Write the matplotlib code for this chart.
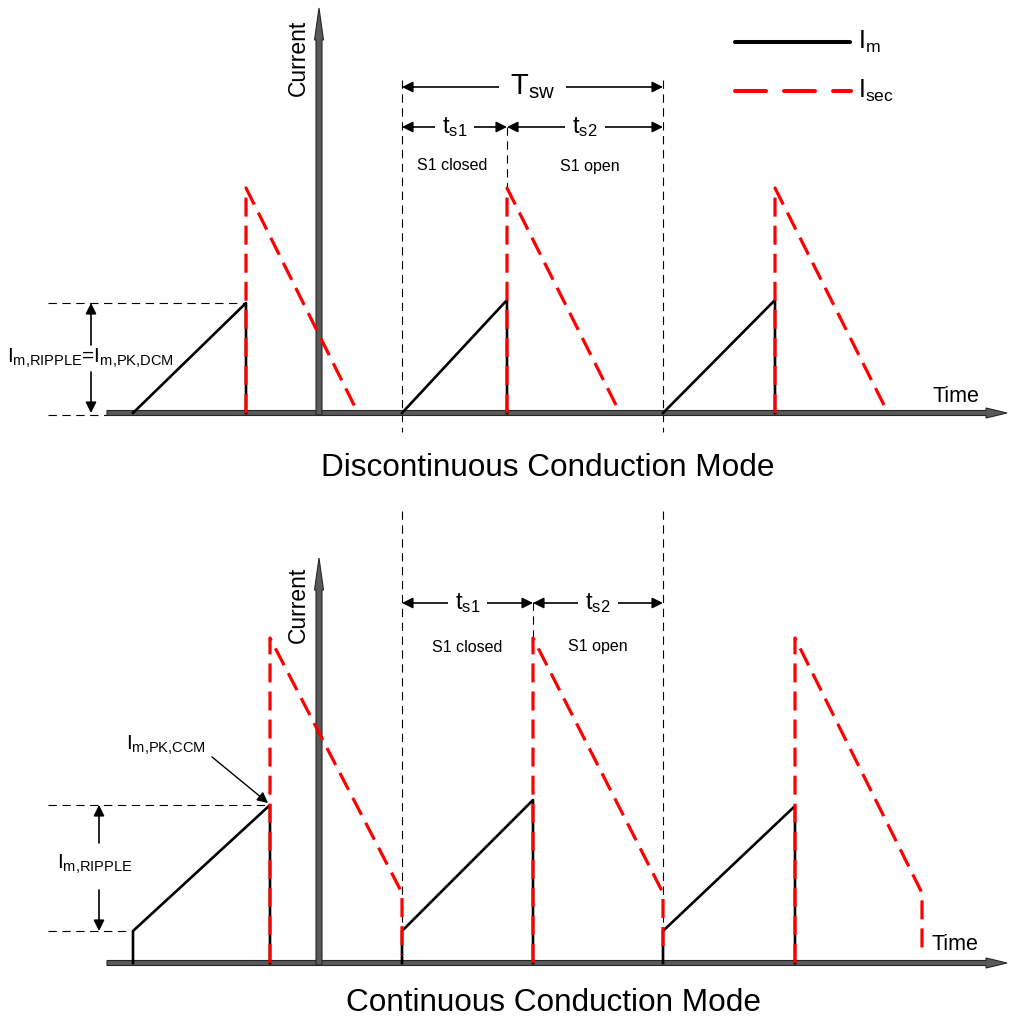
import numpy as np
import matplotlib.pyplot as plt
from matplotlib.patches import Polygon

plt.rcParams['font.family'] = ['Liberation Sans', 'DejaVu Sans']
plt.rcParams['mathtext.fontset'] = 'custom'
plt.rcParams['mathtext.rm'] = 'Liberation Sans'
plt.rcParams['mathtext.it'] = 'Liberation Sans'
plt.rcParams['lines.scale_dashes'] = False

# diagram is laid out in pixel units (y grows downwards)
base = {'dcm': 413, 'ccm': 963}          # time axis of each panel
time_axis = (107, 1007)
current_axis_x = 319
current_tip = {'dcm': 8, 'ccm': 558}

# switching instants
t_start = [133, 402, 663]
t_dcm_off = [246, 507, 775]
t_dcm_end = [358, 620, 888]
t_ccm_off = [270, 533, 795]
t_ccm_end = [402, 663, 922]
t_period = [402, 663]

# current levels, measured above the time axis
dcm_im_pk = [110, 113, 113]
dcm_sec_pk = 225
ccm_im_min = 32
ccm_im_pk = [158, 163, 157]
ccm_sec_pk = 325
ccm_sec_min = 70

RED = '#ff0000'
AX_FILL = '#595959'
AX_EDGE = '#262626'
red_dash = (13.7, 6.5)
guide_dash = (6, 4)

fig = plt.figure(figsize=(10.11, 10.22), dpi=100)
ax = fig.add_axes([0, 0, 1, 1])
ax.set_xlim(0, 1011)
ax.set_ylim(1022, 0)
ax.axis('off')


def h_axis(x0, x1, y):
    pts = [(x0, y - 2.5), (x1 - 21, y - 2.5), (x1 - 21, y - 5), (x1, y),
           (x1 - 21, y + 5), (x1 - 21, y + 2.5), (x0, y + 2.5)]
    ax.add_patch(Polygon(pts, closed=True, fc=AX_FILL, ec=AX_EDGE, lw=0.8, zorder=2))


def v_axis(x, y0, y1):
    pts = [(x - 3, y0), (x - 3, y1 + 32), (x - 4.5, y1 + 32), (x, y1),
           (x + 4.5, y1 + 32), (x + 3, y1 + 32), (x + 3, y0)]
    ax.add_patch(Polygon(pts, closed=True, fc=AX_FILL, ec=AX_EDGE, lw=0.8, zorder=2))


def guide(xs, ys):
    ax.plot(xs, ys, color='k', lw=0.8, dashes=guide_dash, zorder=1)


def dim_arrow(x0, x1, y, label, size, pad=5):
    ax.annotate('', xy=(x1, y), xytext=(x0, y),
                arrowprops=dict(arrowstyle='<|-|>', color='k', lw=1.2,
                                mutation_scale=16, shrinkA=0, shrinkB=0), zorder=3)
    ax.text((x0 + x1) / 2, y, label, fontsize=size, ha='center', va='center',
            bbox=dict(fc='white', ec='none', pad=pad), zorder=4)


def up_down(x, y_top, y_bot, y_a, y_b):
    for tip, tail in ((y_top, y_a), (y_bot, y_b)):
        ax.annotate('', xy=(x, tip), xytext=(x, tail),
                    arrowprops=dict(arrowstyle='-|>', color='k', lw=1.2,
                                    mutation_scale=16, shrinkA=0, shrinkB=0))


# ---------------- DCM panel ----------------
b = base['dcm']
h_axis(time_axis[0], time_axis[1], b)
v_axis(current_axis_x, b + 2, current_tip['dcm'])
for x0, x1, pk in zip(t_start, t_dcm_off, dcm_im_pk):
    ax.plot([x0, x1, x1], [b, b - pk, b], color='k', lw=1.9, zorder=5)
for x1, x2 in zip(t_dcm_off, t_dcm_end):
    ax.plot([x1, x1, x2], [b, b - dcm_sec_pk, b], color=RED, lw=2.3,
            dashes=red_dash, zorder=6)

for x in t_period:
    guide([x, x], [80, 432])
guide([t_dcm_off[1], t_dcm_off[1]], [127, b - dcm_sec_pk])
guide([48, t_dcm_off[0]], [b - dcm_im_pk[0]] * 2)
guide([48, time_axis[0]], [b + 2, b + 2])

dim_arrow(t_period[0], t_period[1], 87, r'$\mathregular{T_{sw}}$', 21, pad=8)
dim_arrow(t_period[0], t_dcm_off[1], 127, r'$\mathregular{t_{s1}}$', 17)
dim_arrow(t_dcm_off[1], t_period[1], 127, r'$\mathregular{t_{s2}}$', 17)
ax.text((t_period[0] + t_dcm_off[1]) / 2 - 2, 166, 'S1 closed', fontsize=11.5,
        ha='center', va='center')
ax.text((t_dcm_off[1] + t_period[1]) / 2 + 5, 166, 'S1 open', fontsize=11.5,
        ha='center', va='center')

up_down(91, b - dcm_im_pk[0], b, 345, 372)
ax.text(90, 358, r'$\mathregular{I_{m{,}RIPPLE}}$=$\mathregular{I_{m{,}PK{,}DCM}}$',
        fontsize=15, ha='center', va='center')

ax.text(298, 58, 'Current', fontsize=16.5, rotation=90, ha='center', va='center')
ax.text(956, 397, 'Time', fontsize=15.5, ha='center', va='center')
ax.text(548, 468, 'Discontinuous Conduction Mode', fontsize=22.7,
        ha='center', va='center')

# ---------------- CCM panel ----------------
b = base['ccm']
h_axis(time_axis[0], time_axis[1], b)
v_axis(current_axis_x, b + 2, current_tip['ccm'])
for x0, x1, pk in zip(t_start, t_ccm_off, ccm_im_pk):
    ax.plot([x0, x0, x1, x1], [b, b - ccm_im_min, b - pk, b], color='k', lw=1.9,
            zorder=5)
for x1, x2 in zip(t_ccm_off, t_ccm_end):
    ax.plot([x1, x1, x2, x2], [b, b - ccm_sec_pk, b - ccm_sec_min, b - 8],
            color=RED, lw=2.3, dashes=red_dash, zorder=6)

for x in t_period:
    guide([x, x], [511, b - 5])
guide([t_ccm_off[1], t_ccm_off[1]], [602, b - ccm_sec_pk])
guide([48, t_ccm_off[0]], [b - ccm_im_pk[0]] * 2)
guide([48, t_start[0]], [b - ccm_im_min] * 2)

dim_arrow(t_period[0], t_ccm_off[1], 603, r'$\mathregular{t_{s1}}$', 17)
dim_arrow(t_ccm_off[1], t_period[1], 603, r'$\mathregular{t_{s2}}$', 17)
ax.text((t_period[0] + t_ccm_off[1]) / 2, 647, 'S1 closed', fontsize=11.5,
        ha='center', va='center')
ax.text((t_ccm_off[1] + t_period[1]) / 2, 647, 'S1 open', fontsize=11.5,
        ha='center', va='center')

up_down(99, b - ccm_im_pk[0], b - ccm_im_min, 843, 890)
ax.text(95, 864, r'$\mathregular{I_{m{,}RIPPLE}}$', fontsize=15, ha='center',
        va='center')

ax.annotate(r'$\mathregular{I_{m{,}PK{,}CCM}}$',
            xy=(t_ccm_off[0] - 2, b - ccm_im_pk[0] - 2),
            xytext=(166, 745), fontsize=15, ha='center', va='center',
            arrowprops=dict(arrowstyle='-|>', color='k', lw=1.0, mutation_scale=16,
                            shrinkA=3, shrinkB=0, relpos=(1, 0.2)))

ax.text(298, 605, 'Current', fontsize=16.5, rotation=90, ha='center', va='center')
ax.text(955, 945, 'Time', fontsize=15.5, ha='center', va='center')
ax.text(554, 1003, 'Continuous Conduction Mode', fontsize=22.7,
        ha='center', va='center')

# ---------------- legend ----------------
ax.plot([735, 850], [42, 42], color='k', lw=2.9, solid_capstyle='round')
ax.plot([735, 851], [91, 91], color=RED, lw=2.9, dashes=(22.3, 13),
        dash_capstyle='round')
ax.text(858, 42, r'$\mathregular{I_m}$', fontsize=18, ha='left', va='center')
ax.text(858, 91, r'$\mathregular{I_{sec}}$', fontsize=18, ha='left', va='center')

fig.savefig('out.png', dpi=100)
